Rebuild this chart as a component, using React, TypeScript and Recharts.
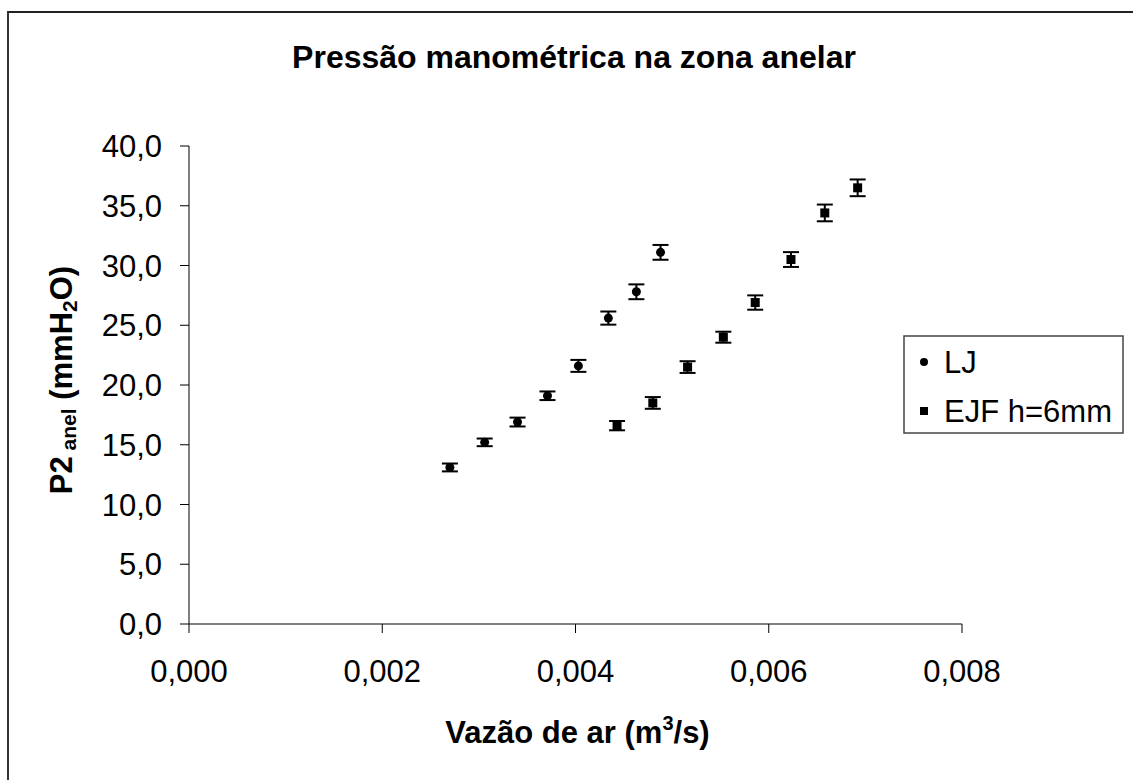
import {
  ScatterChart,
  Scatter,
  XAxis,
  YAxis,
  ErrorBar,
  Legend,
  Label,
  Customized,
} from "recharts";

// values
const ljFlow = [0.0027, 0.00306, 0.0034, 0.00371, 0.00403, 0.00434, 0.00463, 0.00488];
const ljPress = [13.1, 15.2, 16.9, 19.1, 21.6, 25.6, 27.8, 31.1];
const ljErr = [0.33, 0.32, 0.37, 0.36, 0.5, 0.55, 0.62, 0.62];

const ejfFlow = [0.00443, 0.0048, 0.00516, 0.00553, 0.00586, 0.00623, 0.00658, 0.00692];
const ejfPress = [16.6, 18.5, 21.5, 24.0, 26.9, 30.5, 34.4, 36.5];
const ejfErr = [0.39, 0.49, 0.49, 0.46, 0.6, 0.62, 0.7, 0.7];

const seriesNames = ["LJ", "EJF h=6mm"];
const xTicks = [0, 0.002, 0.004, 0.006, 0.008];
const yTicks = [0, 5, 10, 15, 20, 25, 30, 35, 40];

const ljData = ljFlow.map((x, i) => ({ x, y: ljPress[i], err: ljErr[i] }));
const ejfData = ejfFlow.map((x, i) => ({ x, y: ejfPress[i], err: ejfErr[i] }));

const FONT = '"Liberation Sans", Arial, sans-serif';

const CircleDot = (props: any) => {
  const { cx, cy } = props;
  return <circle cx={cx} cy={cy} r={4.5} fill="#000" />;
};

const SquareDot = (props: any) => {
  const { cx, cy } = props;
  return <rect x={cx - 4.5} y={cy - 4.5} width={9} height={9} fill="#000" />;
};

const renderLegend = (props: any) => {
  // keep the series order (recharts sorts legend items by name)
  const items = [...(props.payload || [])].sort(
    (a: any, b: any) => seriesNames.indexOf(a.value) - seriesNames.indexOf(b.value)
  );
  return (
    <svg width={222} height={100} style={{ display: "block" }}>
      <rect x={1} y={1} width={219} height={97} fill="#fff" stroke="#444" strokeWidth={1.5} />
      {items.map((entry: any, i: number) => {
        const cy = 27 + i * 49;
        return (
          <g key={entry.value}>
            {entry.value === seriesNames[0] ? (
              <circle cx={21} cy={cy} r={4} fill="#000" />
            ) : (
              <rect x={17} y={cy - 4} width={8} height={8} fill="#000" />
            )}
            <text x={41} y={cy + 11} fontSize={31} fontFamily={FONT} fill="#000">
              {entry.value}
            </text>
          </g>
        );
      })}
    </svg>
  );
};

const Title = () => (
  <text
    x={574}
    y={68}
    textAnchor="middle"
    fontSize={32}
    fontWeight="bold"
    fontFamily={FONT}
    fill="#000"
  >
    Pressão manométrica na zona anelar
  </text>
);

export default function App() {
  return (
    <div
      style={{
        position: "absolute",
        left: 0,
        top: 0,
        width: 1133,
        height: 780,
        overflow: "hidden",
        background: "#fff",
      }}
    >
      <div
        style={{
          position: "absolute",
          left: 7,
          top: 11,
          width: 1200,
          height: 900,
          borderLeft: "2px solid #333",
          borderTop: "2px solid #222",
        }}
      />
      <ScatterChart
        width={1133}
        height={780}
        margin={{ top: 146, right: 171, bottom: 96, left: 89 }}
        style={{ position: "absolute", left: 0, top: 0 }}
      >
        <XAxis
          type="number"
          dataKey="x"
          domain={[0, 0.008]}
          ticks={xTicks}
          height={60}
          stroke="#000"
          tickSize={9}
          tickMargin={27}
          tick={{ fontSize: 31, fontFamily: FONT, fill: "#000" }}
          tickFormatter={(v) => v.toFixed(3).replace(".", ",")}
        >
          <Label
            content={(p: any) => {
              const vb = p.viewBox;
              return (
                <text
                  x={vb.x + vb.width / 2 + 2}
                  y={743}
                  textAnchor="middle"
                  fontSize={31}
                  fontWeight="bold"
                  fontFamily={FONT}
                  fill="#000"
                >
                  Vazão de ar (m
                  <tspan fontSize={20} dy={-13}>3</tspan>
                  <tspan dy={13}>/s)</tspan>
                </text>
              );
            }}
          />
        </XAxis>
        <YAxis
          type="number"
          dataKey="y"
          domain={[0, 40]}
          ticks={yTicks}
          width={100}
          stroke="#000"
          tickSize={9}
          tickMargin={18}
          tick={{ fontSize: 31, fontFamily: FONT, fill: "#000" }}
          tickFormatter={(v) => v.toFixed(1).replace(".", ",")}
        >
          <Label
            content={() => (
              <text
                x={72}
                y={380}
                transform="rotate(-90, 72, 380)"
                textAnchor="middle"
                fontSize={31}
                fontWeight="bold"
                fontFamily={FONT}
                fill="#000"
              >
                P2
                <tspan fontSize={21} dy={4}>{"\u00a0anel"}</tspan>
                <tspan dy={-4}>{"\u00a0(mmH"}</tspan>
                <tspan fontSize={21} dy={5}>2</tspan>
                <tspan dy={-5}>O)</tspan>
              </text>
            )}
          />
        </YAxis>
        <Legend
          layout="vertical"
          align="center"
          verticalAlign="middle"
          content={renderLegend}
          wrapperStyle={{ left: 903, top: 335, width: 222, height: 100 }}
        />
        <Scatter
          name="LJ"
          data={ljData}
          shape={CircleDot}
          fill="#000"
          isAnimationActive={false}
        >
          <ErrorBar
            dataKey="err"
            direction="y"
            width={8}
            stroke="#000"
            strokeWidth={2}
            isAnimationActive={false}
          />
        </Scatter>
        <Scatter
          name="EJF h=6mm"
          data={ejfData}
          shape={SquareDot}
          fill="#000"
          isAnimationActive={false}
        >
          <ErrorBar
            dataKey="err"
            direction="y"
            width={8}
            stroke="#000"
            strokeWidth={2}
            isAnimationActive={false}
          />
        </Scatter>
        <Customized component={Title} />
      </ScatterChart>
    </div>
  );
}
